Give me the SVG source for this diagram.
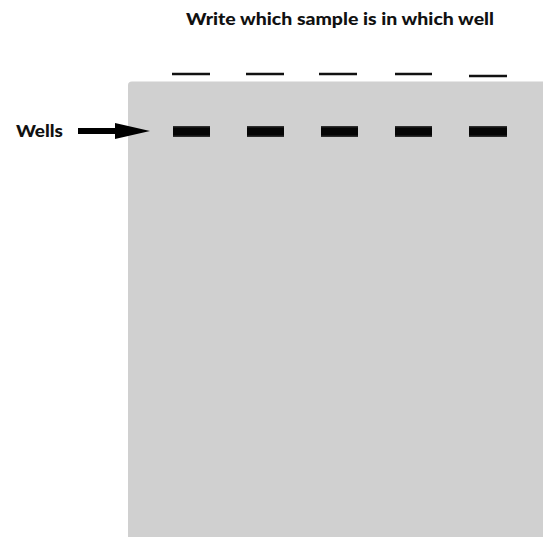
<svg xmlns="http://www.w3.org/2000/svg" width="543" height="537" viewBox="0 0 543 537">
<style>
.lbl{font-family:Lato,"Open Sans","Liberation Sans",sans-serif;font-weight:900;fill:#111}
.line{stroke:#111;stroke-width:2.5}
.well{fill:url(#wg)}
</style>
<defs>
<linearGradient id="wg" x1="0" y1="0" x2="0" y2="1">
<stop offset="0" stop-color="#3a3a3a"/>
<stop offset="0.2" stop-color="#050505"/>
<stop offset="0.8" stop-color="#050505"/>
<stop offset="1" stop-color="#3a3a3a"/>
</linearGradient>
</defs>
<rect width="543" height="537" fill="#fff"/>
<g id="title"><text class="lbl" x="186" y="25" font-size="17" textLength="308" lengthAdjust="spacingAndGlyphs">Write which sample is in which well</text></g>
<g id="gel"><path d="M128 537 V85 Q128 81.5 132 81.5 H543 V537 Z" fill="#d0d0d0"/></g>
<g id="label-lines">
<line class="line" x1="172" y1="74" x2="210" y2="74"/>
<line class="line" x1="246" y1="74" x2="284" y2="74"/>
<line class="line" x1="319" y1="74" x2="357" y2="74"/>
<line class="line" x1="395" y1="74" x2="432" y2="74"/>
<line class="line" x1="469" y1="76" x2="507" y2="76"/>
</g>
<g id="wells">
<rect class="well" x="173" y="126" width="37" height="11"/>
<rect class="well" x="247" y="126" width="37" height="11"/>
<rect class="well" x="321" y="126" width="37" height="11"/>
<rect class="well" x="395" y="126" width="37" height="11"/>
<rect class="well" x="469" y="126" width="38" height="11"/>
</g>
<g id="wells-label"><text class="lbl" x="16" y="137" font-size="17" textLength="47" lengthAdjust="spacingAndGlyphs">Wells</text></g>
<g id="connectors">
<path d="M78 128 H115 V123 L150 131 L115 139 V134 H78 Z" fill="#000"/>
</g>
</svg>
